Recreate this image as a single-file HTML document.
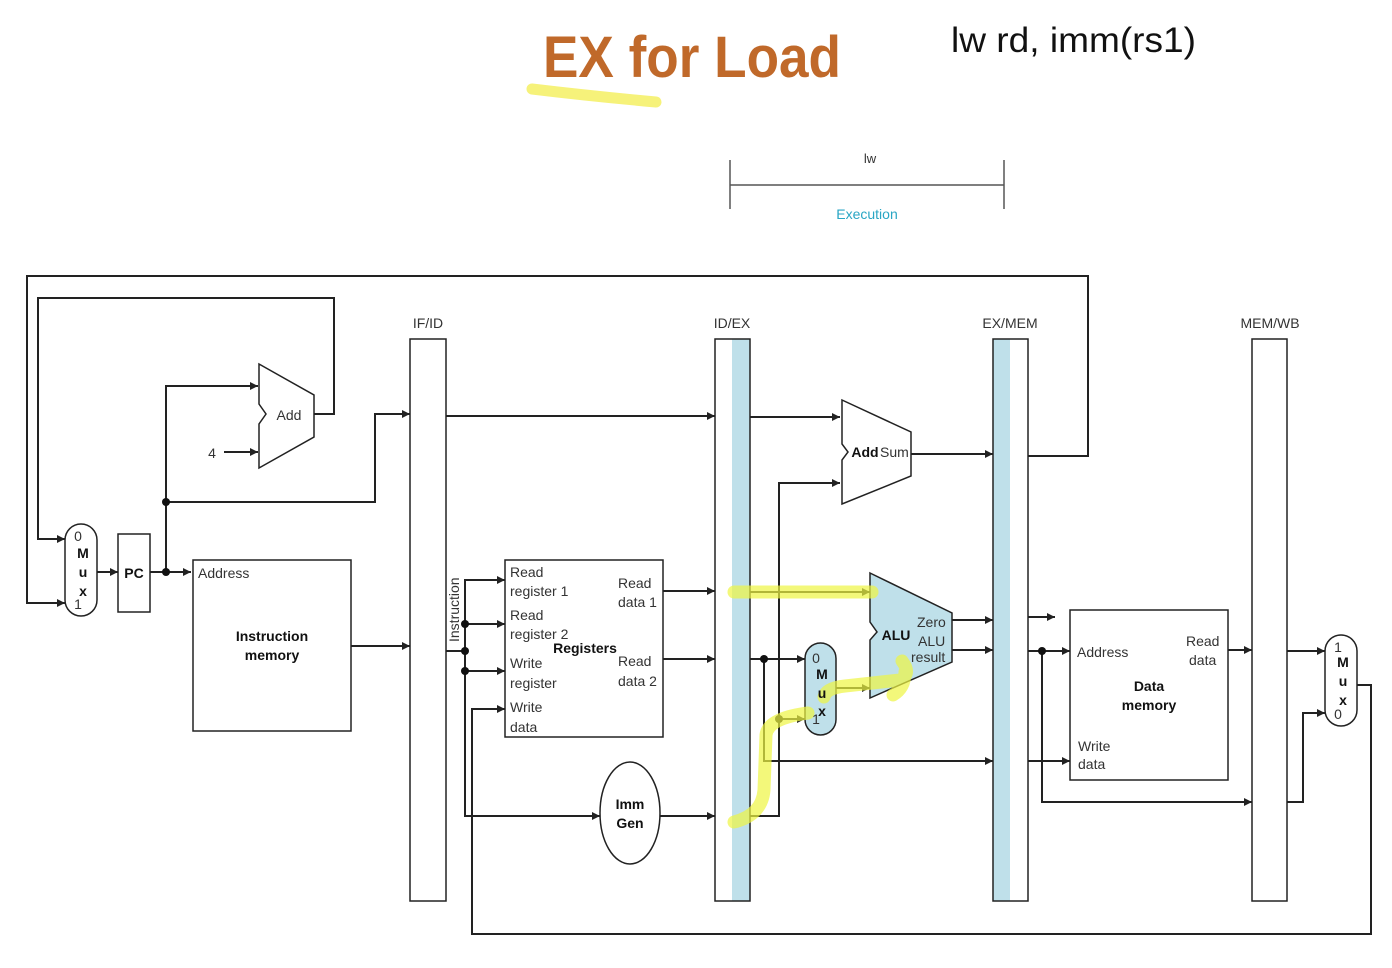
<!DOCTYPE html>
<html><head><meta charset="utf-8"><style>
html,body{margin:0;padding:0;background:#fff;}
svg{display:block;font-family:"Liberation Sans",Arial,sans-serif;}
</style></head><body>
<svg width="1392" height="968" viewBox="0 0 1392 968" xmlns="http://www.w3.org/2000/svg">
<defs>
<marker id="a" viewBox="0 0 10 10" refX="10" refY="5" markerWidth="12" markerHeight="8" markerUnits="userSpaceOnUse" orient="auto"><path d="M0,0L10,5L0,10z" fill="#222"/></marker>
</defs>
<path d="M532,89 Q590,96 656,102" stroke="#f6f27a" stroke-width="11" stroke-linecap="round" fill="none"/>
<text x="543" y="77" font-size="58" font-weight="bold" fill="#c0692a" textLength="298" lengthAdjust="spacingAndGlyphs">EX for Load</text>
<text x="951" y="52" font-size="35" fill="#111" textLength="245" lengthAdjust="spacingAndGlyphs">lw rd, imm(rs1)</text>
<text x="870" y="163" font-size="13" fill="#333" text-anchor="middle">lw</text>
<g stroke="#555" stroke-width="1.5"><line x1="730" y1="160" x2="730" y2="209"/><line x1="1004" y1="160" x2="1004" y2="209"/><line x1="730" y1="185" x2="1004" y2="185"/></g>
<text x="867" y="219" font-size="14" fill="#29a6c4" text-anchor="middle">Execution</text>

<g fill="none" stroke="#222" stroke-width="2">
<rect x="410" y="339" width="36" height="562" stroke-width="1.5"/>
<rect x="732" y="339" width="18" height="562" fill="#bfe0ea" stroke="none"/>
<rect x="715" y="339" width="35" height="562" stroke-width="1.5"/>
<rect x="993" y="339" width="17" height="562" fill="#bfe0ea" stroke="none"/>
<rect x="993" y="339" width="35" height="562" stroke-width="1.5"/>
<rect x="1252" y="339" width="35" height="562" stroke-width="1.5"/>
<polyline points="1028,456 1088,456 1088,276 27,276 27,603 65,603" marker-end="url(#a)"/>
<polyline points="314,414 334,414 334,298 38,298 38,539 65,539" marker-end="url(#a)"/>
<rect x="65" y="524" width="32" height="92" rx="16" stroke-width="1.5"/>
<rect x="118" y="534" width="32" height="78" stroke-width="1.5"/>
<line x1="97" y1="572" x2="118" y2="572" marker-end="url(#a)"/>
<line x1="150" y1="572" x2="191" y2="572" marker-end="url(#a)"/>
<polyline points="166,572 166,386 258,386" marker-end="url(#a)"/>
<polyline points="166,502 375,502 375,414 410,414" marker-end="url(#a)"/>
<line x1="224" y1="452" x2="258" y2="452" marker-end="url(#a)"/>
<polygon points="259,364 314,395 314,437 259,468 259,424 266,414 259,404" stroke-width="1.5"/>
<rect x="193" y="560" width="158" height="171" stroke-width="1.5"/>
<line x1="351" y1="646" x2="410" y2="646" marker-end="url(#a)"/>
<line x1="446" y1="416" x2="715" y2="416" marker-end="url(#a)"/>
<polyline points="446,651 465,651"/>
<polyline points="505,580 465,580 465,816 600,816" marker-end="url(#a)"/>
<line x1="465" y1="580" x2="505" y2="580" marker-end="url(#a)"/>
<line x1="465" y1="624" x2="505" y2="624" marker-end="url(#a)"/>
<line x1="465" y1="671" x2="505" y2="671" marker-end="url(#a)"/>
<polyline points="1357,685 1371,685 1371,934 472,934 472,709 505,709" marker-end="url(#a)"/>
<rect x="505" y="560" width="158" height="177" stroke-width="1.5"/>
<line x1="663" y1="591" x2="715" y2="591" marker-end="url(#a)"/>
<line x1="663" y1="659" x2="715" y2="659" marker-end="url(#a)"/>
<ellipse cx="630" cy="813" rx="30" ry="51" stroke-width="1.5"/>
<line x1="660" y1="816" x2="715" y2="816" marker-end="url(#a)"/>
<line x1="750" y1="417" x2="840" y2="417" marker-end="url(#a)"/>
<polygon points="842,400 911,432 911,476 842,504 842,460 848,452 842,444" stroke-width="1.5"/>
<line x1="911" y1="454" x2="993" y2="454" marker-end="url(#a)"/>
<polyline points="750,816 779,816 779,483 840,483" marker-end="url(#a)"/>
<line x1="750" y1="592" x2="870" y2="592" marker-end="url(#a)"/>
<line x1="750" y1="659" x2="805" y2="659" marker-end="url(#a)"/>
<line x1="779" y1="719" x2="805" y2="719" marker-end="url(#a)"/>
<polyline points="764,659 764,761 993,761" marker-end="url(#a)"/>
<rect x="805" y="643" width="31" height="92" rx="15.5" fill="#bfe0ea" stroke-width="1.5"/>
<line x1="836" y1="688" x2="870" y2="688" marker-end="url(#a)"/>
<polygon points="870,573 952,613 952,662 870,698 870,640 877,632 870,622" fill="#bfe0ea" stroke-width="1.5"/>
<line x1="952" y1="620" x2="993" y2="620" marker-end="url(#a)"/>
<line x1="952" y1="650" x2="993" y2="650" marker-end="url(#a)"/>
<line x1="1028" y1="617" x2="1055" y2="617" marker-end="url(#a)"/>
<line x1="1028" y1="651" x2="1070" y2="651" marker-end="url(#a)"/>
<polyline points="1042,651 1042,802 1252,802" marker-end="url(#a)"/>
<line x1="1028" y1="761" x2="1070" y2="761" marker-end="url(#a)"/>
<rect x="1070" y="610" width="158" height="170" stroke-width="1.5"/>
<line x1="1228" y1="650" x2="1252" y2="650" marker-end="url(#a)"/>
<line x1="1287" y1="651" x2="1325" y2="651" marker-end="url(#a)"/>
<polyline points="1287,802 1303,802 1303,713 1325,713" marker-end="url(#a)"/>
<rect x="1325" y="635" width="32" height="91" rx="16" stroke-width="1.5"/>
</g>
<g fill="#111">
<circle cx="166" cy="572" r="4"/><circle cx="166" cy="502" r="4"/>
<circle cx="465" cy="624" r="4"/><circle cx="465" cy="651" r="4"/><circle cx="465" cy="671" r="4"/>
<circle cx="764" cy="659" r="4"/><circle cx="779" cy="719" r="4"/><circle cx="1042" cy="651" r="4"/>
</g>
<g stroke="#eef542" stroke-opacity="0.7" stroke-width="13" stroke-linecap="round" stroke-linejoin="round" fill="none">
<line x1="734" y1="592" x2="872" y2="592"/>
<path d="M734,822 Q762,815 764,790 L766,735 Q768,718 808,713"/>
<path d="M824,697 Q826,688 845,686 L900,680 Q912,674 902,661 M905,672 Q905,688 893,695"/>
</g>
<g font-size="14" fill="#333">
<text x="428" y="328" text-anchor="middle">IF/ID</text>
<text x="732" y="328" text-anchor="middle">ID/EX</text>
<text x="1010" y="328" text-anchor="middle">EX/MEM</text>
<text x="1270" y="328" text-anchor="middle">MEM/WB</text>
<text x="289" y="420" text-anchor="middle">Add</text>
<text x="212" y="458" text-anchor="middle">4</text>
<text x="198" y="578">Address</text>
<text x="510" y="577">Read</text><text x="510" y="596">register 1</text>
<text x="510" y="620">Read</text><text x="510" y="639">register 2</text>
<text x="510" y="668">Write</text><text x="510" y="688">register</text>
<text x="510" y="712">Write</text><text x="510" y="732">data</text>
<text x="618" y="588">Read</text><text x="618" y="607">data 1</text>
<text x="618" y="666">Read</text><text x="618" y="686">data 2</text>
<text x="880" y="457">Sum</text>
<text x="917" y="627">Zero</text>
<text x="918" y="646">ALU</text><text x="911" y="662">result</text>
<text x="1077" y="657">Address</text>
<text x="1186" y="646">Read</text><text x="1189" y="665">data</text>
<text x="1078" y="751">Write</text><text x="1078" y="769">data</text>
<text x="459" y="642" transform="rotate(-90 459 642)">Instruction</text>
<text x="78" y="541" text-anchor="middle">0</text><text x="78" y="609" text-anchor="middle">1</text>
<text x="816" y="663" text-anchor="middle">0</text><text x="816" y="724" text-anchor="middle">1</text>
<text x="1338" y="652" text-anchor="middle">1</text><text x="1338" y="719" text-anchor="middle">0</text>
</g>
<g font-size="14" font-weight="bold" fill="#111" text-anchor="middle">
<text x="134" y="578">PC</text>
<text x="272" y="641">Instruction</text><text x="272" y="660">memory</text>
<text x="585" y="653">Registers</text>
<text x="630" y="809">Imm</text><text x="630" y="828">Gen</text>
<text x="865" y="457">Add</text>
<text x="896" y="640">ALU</text>
<text x="1149" y="691">Data</text><text x="1149" y="710">memory</text>
<text x="83" y="558">M</text><text x="83" y="577">u</text><text x="83" y="596">x</text>
<text x="822" y="679">M</text><text x="822" y="698">u</text><text x="822" y="716">x</text>
<text x="1343" y="667">M</text><text x="1343" y="686">u</text><text x="1343" y="705">x</text>
</g>
</svg>
</body></html>
